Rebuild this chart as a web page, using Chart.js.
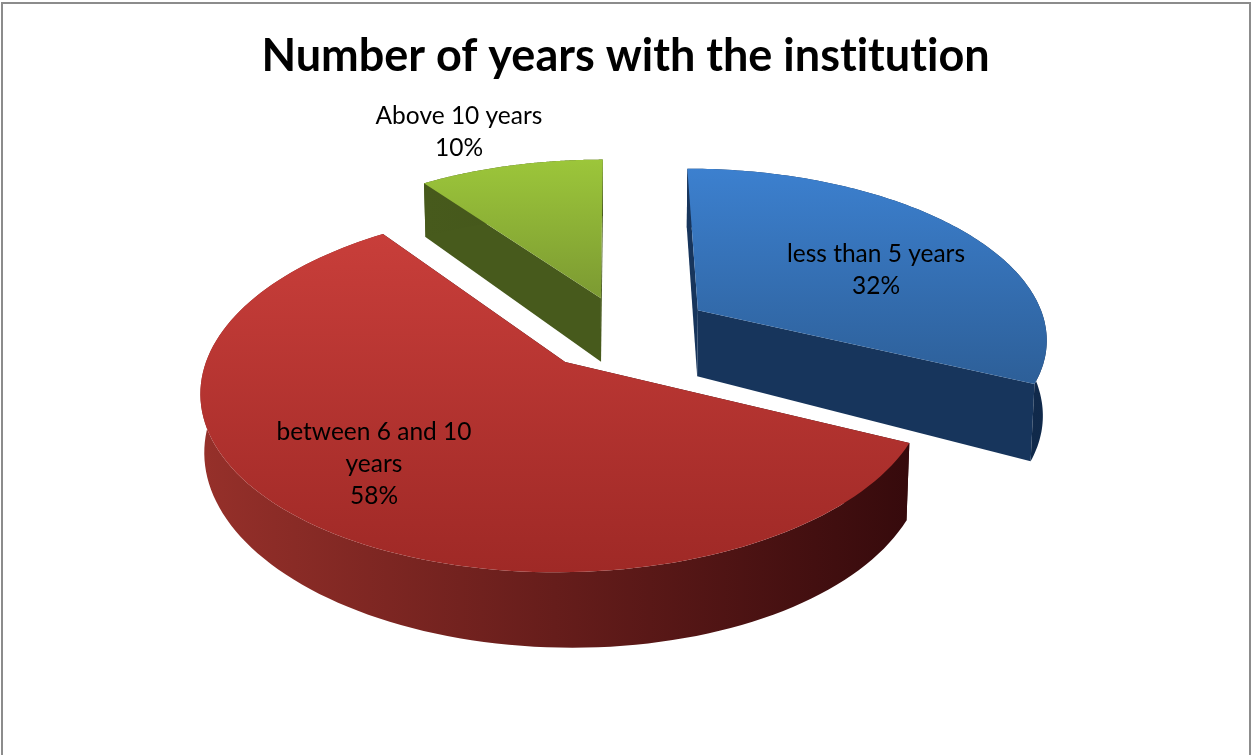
<!DOCTYPE html>
<html>
<head>
<meta charset="utf-8">
<title>Number of years with the institution</title>
<script src="https://cdn.jsdelivr.net/npm/chart.js@4"></script>
<style>
  html, body { margin: 0; padding: 0; background: #fff; overflow: hidden; }
  #wrap { position: relative; width: 1251px; height: 755px; }
  #frame { position: absolute; left: 1px; top: 2px; width: 1246px; height: 753px;
           border: 2px solid #8c8c8c; border-bottom: none; pointer-events: none; }
  canvas { display: block; }
</style>
</head>
<body>
<div id="wrap">
  <canvas id="pie" width="1251" height="755"></canvas>
  <div id="frame"></div>
</div>
<script>
// Chart content
const chartTitle = 'Number of years with the institution';
const categories = ['less than 5 years', 'between 6 and 10 years', 'Above 10 years'];
const shares = [32, 58, 10];
const labelLines = [['less than 5 years'], ['between 6 and 10', 'years'], ['Above 10 years']];

// Slice styling: top face gradient stops and wall colours
const topColors = [['#3c80cf', '#2d5f98'], ['#c83e3a', '#9f2926'], ['#9cc63a', '#7c9a32']];
const wallColors = [['#17355c', '#10294a'], ['#96302a', '#360a0c'], ['#475a1c', '#43551a']];
const explode = [0.275, 0.22, 0.22];
const nudge = [[0.008, 0.012], [0, 0], [0.025, 0]];
const labelCenters = [[876, 270], [374, 464], [459, 132]];

// Camera used to lay the flat pie on a tilted table top
const cam = { cx: 615.5, cy: 332.6, ax: 350, by: 169, persp: 0.15, depth: 66, depthTilt: 8, recede: 0.009 };

function project(u, v, lowered) {
  const w = 1 - cam.persp * v + (lowered ? cam.recede : 0);
  const drop = lowered ? cam.depth + cam.depthTilt * u : 0;
  return {
    x: cam.cx + cam.ax * u / w,
    y: cam.cy + (cam.by * v + drop) / w
  };
}

function tracePolygon(ctx, pts) {
  ctx.beginPath();
  pts.forEach((p, i) => i ? ctx.lineTo(p.x, p.y) : ctx.moveTo(p.x, p.y));
  ctx.closePath();
}

function arcPoints(tip, start, end, steps) {
  const pts = [];
  for (let i = 0; i <= steps; i++) {
    const a = start + (end - start) * i / steps;
    pts.push([tip[0] + Math.cos(a), tip[1] + Math.sin(a)]);
  }
  return pts;
}

// Draws the library's arc elements as extruded, exploded wedges
const tiltedPie = {
  id: 'tiltedPie',
  beforeDraw(chart) {
    // Plain glyphs only: keeps "ti" as two letters in the headline
    chart.ctx.textRendering = 'optimizeSpeed';
  },
  beforeDatasetDraw(chart, args) {
    const ctx = chart.ctx;
    const arcs = args.meta.data;
    const order = [2, 0, 1];
    order.forEach(i => {
      const { startAngle, endAngle } = arcs[i].getProps(['startAngle', 'endAngle'], true);
      const mid = (startAngle + endAngle) / 2;
      const tip = [
        explode[i] * Math.cos(mid) + nudge[i][0],
        explode[i] * Math.sin(mid) + nudge[i][1]
      ];
      const rim = arcPoints(tip, startAngle, endAngle, 120);
      const up = p => project(p[0], p[1], false);
      const low = p => project(p[0], p[1], true);

      ctx.save();
      const topPts = [up(tip), ...rim.map(up)];
      const ys = topPts.map(p => p.y), xs = topPts.map(p => p.x);
      const minY = Math.min(...ys), maxY = Math.max(...ys);
      const minX = Math.min(...xs), maxX = Math.max(...xs);

      // Straight cut faces
      ctx.fillStyle = i === 1 ? wallColors[i][1] : wallColors[i][0];
      [rim[0], rim[rim.length - 1]].forEach(edge => {
        tracePolygon(ctx, [up(tip), up(edge), low(edge), low(tip)]);
        ctx.fill();
      });

      // Outer curved wall
      const wallGrad = ctx.createLinearGradient(minX, 0, maxX, 0);
      wallGrad.addColorStop(0, wallColors[i][0]);
      wallGrad.addColorStop(1, wallColors[i][1]);
      ctx.fillStyle = wallGrad;
      tracePolygon(ctx, [...rim.map(up), ...rim.slice().reverse().map(low)]);
      ctx.fill();

      // Top face
      const topGrad = ctx.createLinearGradient(0, minY, 0, maxY);
      topGrad.addColorStop(0, topColors[i][0]);
      topGrad.addColorStop(1, topColors[i][1]);
      ctx.fillStyle = topGrad;
      tracePolygon(ctx, topPts);
      ctx.fill();
      ctx.restore();
    });
    return false;
  },
  afterDatasetsDraw(chart) {
    const ctx = chart.ctx;
    ctx.save();
    ctx.fillStyle = '#000';
    ctx.font = '24.5px Lato';
    ctx.textAlign = 'center';
    ctx.textBaseline = 'middle';
    shares.forEach((share, i) => {
      const lines = [...labelLines[i], share + '%'];
      const pitch = 32.3;
      const [x, y] = labelCenters[i];
      lines.forEach((line, n) => {
        ctx.fillText(line, x, y + (n - (lines.length - 1) / 2) * pitch);
      });
    });
    ctx.restore();
  }
};

new Chart(document.getElementById('pie'), {
  type: 'pie',
  data: {
    labels: categories,
    datasets: [{ data: shares, backgroundColor: topColors.map(c => c[0]), borderWidth: 0 }]
  },
  options: {
    responsive: false,
    animation: false,
    layout: { padding: 0 },
    plugins: {
      legend: { display: false },
      tooltip: { enabled: false },
      title: {
        display: true,
        text: chartTitle,
        color: '#000',
        font: { family: 'Lato', size: 45, weight: 'bold' },
        padding: { top: 29, bottom: 10 }
      }
    }
  },
  plugins: [tiltedPie]
});
</script>
</body>
</html>
